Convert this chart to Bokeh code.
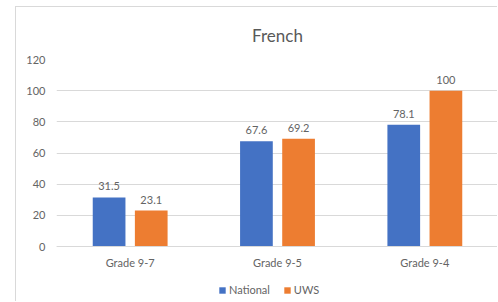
from bokeh.plotting import figure
from bokeh.models import ColumnDataSource, FactorRange, Legend, LegendItem, FixedTicker, Range1d
from bokeh.transform import dodge
from bokeh.core.properties import value
from bokeh.embed import file_html
from bokeh.resources import INLINE

categories = ["Grade 9-7", "Grade 9-5", "Grade 9-4"]
national = [31.5, 67.6, 78.1]
uws = [23.1, 69.2, 100]
series = ["National", "UWS"]
y_ticks = [0, 20, 40, 60, 80, 100, 120]

colors = ["#4472C4", "#ED7D31"]
FONT = "Lato"
GRAY = "#646464"

src = ColumnDataSource(dict(
    cat=categories,
    national=national,
    uws=uws,
    national_lbl=[f"{v:g}" for v in national],
    uws_lbl=[f"{v:g}" for v in uws],
))

# frame runs from the 120 gridline to the bottom of the chart; the part below 0
# holds the category labels and the legend
p = figure(
    x_range=FactorRange(*categories, range_padding=0),
    y_range=Range1d(-35.9, 120),
    width=482, height=295,
    output_backend="svg", toolbar_location=None,
    min_border_left=40, min_border_right=0,
    min_border_top=52, min_border_bottom=0,
    title="French",
    styles={"margin-left": "15px", "margin-top": "6px",
            "border-left": "1px solid #d9d9d9", "border-top": "1px solid #d9d9d9"},
)

p.title.align = "center"
p.title.text_font = FONT
p.title.text_font_size = "17px"
p.title.text_font_style = "normal"
p.title.text_color = "#595959"
p.title.standoff = 28

r1 = p.vbar(x=dodge("cat", -0.143, range=p.x_range), top="national", width=0.222,
            source=src, color=colors[0], line_color=None)
r2 = p.vbar(x=dodge("cat", 0.143, range=p.x_range), top="uws", width=0.222,
            source=src, color=colors[1], line_color=None)

for key, off in (("national", -0.143), ("uws", 0.143)):
    p.text(x=dodge("cat", off, range=p.x_range), y=key, text=key + "_lbl", source=src,
           text_align="center", text_baseline="bottom", y_offset=-7,
           text_font=value(FONT), text_font_size="11px", text_color=GRAY)

p.yaxis.ticker = FixedTicker(ticks=y_ticks)
p.yaxis.axis_line_color = None
p.yaxis.major_tick_line_color = None
p.yaxis.minor_tick_line_color = None
p.yaxis.major_tick_out = 0
p.yaxis.minor_tick_out = 0
p.yaxis.major_label_standoff = 11
p.yaxis.major_label_text_font = FONT
p.yaxis.major_label_text_font_size = "11px"
p.yaxis.major_label_text_color = GRAY

p.xaxis.fixed_location = 0
p.xaxis.axis_line_color = "#d9d9d9"
p.xaxis.major_tick_line_color = None
p.xaxis.minor_tick_line_color = None
p.xaxis.major_tick_out = 0
p.xaxis.minor_tick_out = 0
p.xaxis.major_label_standoff = 9
p.xaxis.major_label_text_font = FONT
p.xaxis.major_label_text_font_size = "11px"
p.xaxis.major_label_text_color = GRAY

p.xgrid.grid_line_color = None
p.ygrid.grid_line_color = "#d9d9d9"
p.outline_line_color = None

legend = Legend(items=[LegendItem(label=series[0], renderers=[r1]),
                       LegendItem(label=series[1], renderers=[r2])],
                orientation="horizontal", location=(162, 6),
                glyph_width=8, glyph_height=8, label_standoff=3, spacing=13,
                padding=0, margin=0, border_line_color=None,
                background_fill_alpha=0,
                label_text_font=FONT, label_text_font_size="11px",
                label_text_color=GRAY, label_height=12)
p.add_layout(legend, "center")

open("out.html", "w").write(file_html(p, INLINE))
